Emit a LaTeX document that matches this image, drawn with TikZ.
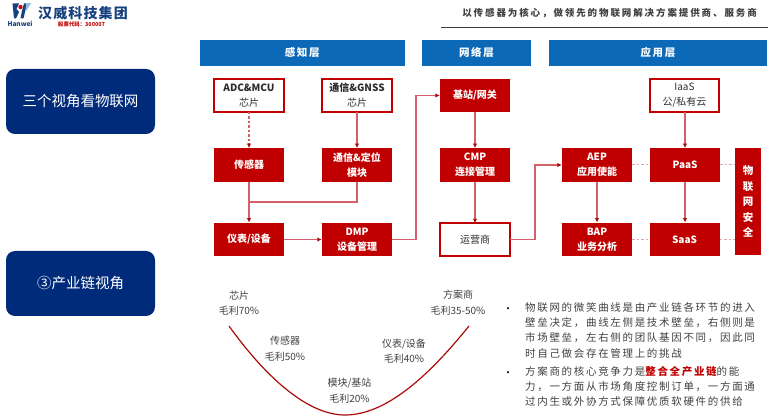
\documentclass[tikz,border=0pt]{standalone}
\usepackage{fontspec}
\setmainfont{Noto Sans CJK SC}
\newfontfamily\spaced[LetterSpace=16]{Noto Sans CJK SC}
\newfontfamily\spacedt[LetterSpace=20]{Noto Sans CJK SC}
\usetikzlibrary{arrows.meta}
\definecolor{hwred}{HTML}{C00000}
\definecolor{hwdark}{HTML}{AB0A0A}
\definecolor{hwpink}{HTML}{D6606A}
\definecolor{hwdash}{HTML}{E2A3A5}
\definecolor{hwblue}{HTML}{0B69B7}
\definecolor{hwnavy}{HTML}{002B7A}
\definecolor{hwtext}{HTML}{404040}
\definecolor{hwlogo}{HTML}{16407F}
\tikzset{
  x=1pt,y=-1pt,
  redbox/.style={draw=none,fill=hwred,text=white,minimum width=70pt,minimum height=33.5pt,inner sep=0pt,align=center,font=\fontsize{10}{15}\selectfont\bfseries},
  whitebox/.style={fill=white,text=hwtext!70!black,minimum width=69pt,minimum height=32pt,inner sep=0pt,align=center,font=\fontsize{10}{15}\selectfont},
  boxedge/.style={draw=hwred,line width=1.9pt,fill=none},
  headbar/.style={fill=hwblue,text=white,minimum height=26pt,inner sep=0pt,font=\fontsize{10.5}{12}\selectfont\spaced\bfseries},
  navybox/.style={fill=hwnavy,text=white,rounded corners=9pt,minimum width=149pt,minimum height=65pt,inner sep=0pt,font=\fontsize{14.5}{16}\selectfont},
  conn/.style={draw=hwpink,line width=1.3pt},
  arrowconn/.style={conn,-{Latex[length=4.5pt,width=4.5pt,color=hwdark]}},
  dashconn/.style={draw=hwdash,line width=1pt,dash pattern=on 2.5pt off 2pt},
  curvelab/.style={text=hwtext,inner sep=0pt,align=center,font=\fontsize{10}{15.5}\selectfont},
  bodytext/.style={text=hwtext,inner sep=0pt,anchor=north west,align=left,font=\fontsize{10.5}{15.3}\selectfont\spaced},
}
\begin{document}
\begin{tikzpicture}
\useasboundingbox (0,0) rectangle (768,419);
% logo
\fill[hwlogo] (12.5,3.5) -- (19,3.5) -- (16.5,9) -- (19,12) -- (16,18.5) -- (14,18.5) -- cycle;
\fill[hwlogo] (24,3.5) -- (27,3.5) -- (23.5,18.5) -- (20.5,18.5) -- (22,11) -- cycle;
\fill[red!85!black] (20.5,7) circle (2.2);
\fill[hwblue!45] (26,3.2) -- (31,3.2) -- (25.5,12) -- cycle;
\node[inner sep=0pt,text=hwlogo,font=\fontsize{6.5}{8}\selectfont\bfseries] (hanwei) at (20,23.5) {Hanwei};
\node[inner sep=0pt,text=hwlogo,anchor=west,font=\fontsize{14}{16}\selectfont\bfseries\addfontfeature{LetterSpace=8}] (brand) at (38,13) {汉威科技集团};
\node[inner sep=0pt,text=hwred,anchor=west,font=\fontsize{5.4}{6}\selectfont\bfseries] (stock) at (58,24) {股票代码：300007};
% title
\node[inner sep=0pt,anchor=east,text=hwtext,font=\fontsize{9.5}{12}\selectfont\spacedt\bfseries] (title) at (757,13.5) {以传感器为核心，做领先的物联网解决方案提供商、服务商};
\draw[hwtext,line width=0.7pt] (441,27.3) -- (768,27.3);
% left
\node[navybox] (view1) at (80.5,101.5) {三个视角看物联网};
\node[navybox] (view2) at (80.5,283.5) {③产业链视角};
% headers
\node[headbar,minimum width=205.5pt] (h1) at (302.25,53) {感知层};
\node[headbar,minimum width=109pt] (h2) at (476.5,53) {网络层};
\node[headbar,minimum width=218pt] (h3) at (658,53) {应用层};
% boxes
\node[whitebox] (adc) at (249,95.5) {\textbf{ADC\&MCU}\\芯片};
\node[whitebox] (gnss) at (357,95.5) {\textbf{通信\&GNSS}\\芯片};
\node[redbox] (sensor) at (249,165) {传感器};
\node[redbox] (module) at (357,165) {通信\&定位\\模块};
\node[redbox] (meter) at (249,239.5) {仪表/设备};
\node[redbox] (dmp) at (357,239.5) {DMP\\设备管理};
\node[redbox] (base) at (475,95.5) {基站/网关};
\node[redbox] (cmp) at (475,165) {CMP\\连接管理};
\node[whitebox] (op) at (475,239.5) {运营商};
\node[redbox] (aep) at (597,165) {AEP\\应用使能};
\node[redbox] (paas) at (685,165) {PaaS};
\node[redbox] (bap) at (597,239.5) {BAP\\业务分析};
\node[redbox] (saas) at (684.5,239.5) {SaaS};
\node[whitebox] (iaas) at (684.5,95.5) {IaaS\\公/私有云};
\node[redbox,minimum width=26pt,minimum height=107pt,font=\fontsize{10.5}{15.6}\selectfont\bfseries] (sec) at (748,201.5) {物\\联\\网\\安\\全};
\draw[boxedge] (adc.south west) rectangle (adc.north east);
\draw[boxedge] (gnss.south west) rectangle (gnss.north east);
\draw[boxedge] (op.south west) rectangle (op.north east);
\draw[boxedge] (iaas.south west) rectangle (iaas.north east);
% connectors
\draw[arrowconn,dash pattern=on 2.5pt off 2pt] (adc) -- (sensor);
\draw[arrowconn] (gnss) -- (module);
\draw[arrowconn] (sensor) -- (meter);
\coordinate (join) at (249,202);
\draw[conn] (module.south) |- (join);
\draw[arrowconn] (meter) -- (dmp);
\draw[arrowconn] (dmp.east) -- (416,239.5) |- (base.west);
\draw[arrowconn] (base) -- (cmp);
\draw[arrowconn] (cmp) -- (op);
\draw[arrowconn] (op.east) -- (535,239.5) |- (aep.west);
\draw[arrowconn] (aep) -- (bap);
\draw[arrowconn] (paas) -- (saas.north -| paas);
\draw[arrowconn] (iaas.south -| paas) -- (paas);
\draw[dashconn] (aep) -- (paas);
\draw[dashconn] (bap) -- (saas);
\draw[dashconn] (paas.east) -- (sec.west |- paas.east);
\draw[dashconn] (saas.east) -- (sec.west |- saas.east);
% smile curve
\coordinate (cl) at (229,326);
\coordinate (cb) at (345,415);
\coordinate (cr) at (469,326);
\draw[hwdark,line width=1.2pt] (cl) .. controls (262,372) and (305,415) .. (cb) .. controls (390,415) and (435,368) .. (cr);
\node[curvelab] (l1) at (239,303) {芯片\\毛利70\%};
\node[curvelab] (l2) at (285,348.5) {传感器\\毛利50\%};
\node[curvelab] (l3) at (349.5,390.5) {模块/基站\\毛利20\%};
\node[curvelab] (l4) at (404,351) {仪表/设备\\毛利40\%};
\node[curvelab] (l5) at (458,302.5) {方案商\\毛利35-50\%};
% bullets
\node[inner sep=0pt,text=black,font=\fontsize{10}{12}\selectfont] (b1) at (508,310) {•};
\node[inner sep=0pt,text=black,font=\fontsize{10}{12}\selectfont] (b2) at (508,374) {•};
\node[bodytext] (t1) at (525,302) {物联网的微笑曲线是由产业链各环节的进入\\壁垒决定，曲线左侧是技术壁垒，右侧则是\\市场壁垒，左右侧的团队基因不同，因此同\\时自己做会存在管理上的挑战};
\node[bodytext] (t2) at (525,366) {方案商的核心竞争力是\textcolor{hwred}{\bfseries 整合全产业链}的能\\力，一方面从市场角度控制订单，一方面通\\过内生或外协方式保障优质软硬件的供给};
\end{tikzpicture}
\end{document}
